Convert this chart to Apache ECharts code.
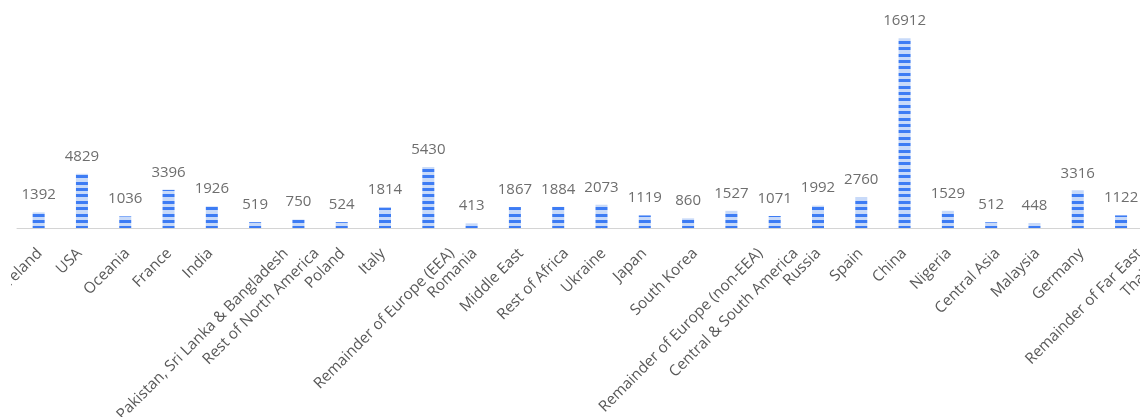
<!DOCTYPE html>
<html>
<head>
<meta charset="utf-8">
<script src="https://cdn.jsdelivr.net/npm/echarts@6/dist/echarts.min.js"></script>
<style>
html,body{margin:0;padding:0;overflow:hidden;background:#fff;width:1140px;height:417px;}
#chart{position:absolute;left:11px;top:0;width:1189px;height:417px;}
</style>
</head>
<body>
<div id="chart"></div>
<script>
// ---- data ----
const categories = [
  'Ireland', 'USA', 'Oceania', 'France', 'India',
  'Pakistan, Sri Lanka & Bangladesh', 'Rest of North America', 'Poland', 'Italy',
  'Remainder of Europe (EEA)', 'Romania', 'Middle East', 'Rest of Africa', 'Ukraine',
  'Japan', 'South Korea', 'Remainder of Europe (non-EEA)', 'Central & South America',
  'Russia', 'Spain', 'China', 'Nigeria', 'Central Asia', 'Malaysia', 'Germany',
  'Remainder of Far East', 'Thailand'
];
const values = [
  1392, 4829, 1036, 3396, 1926,
  519, 750, 524, 1814,
  5430, 413, 1867, 1884, 2073,
  1119, 860, 1527, 1071,
  1992, 2760, 16912, 1529, 512, 448, 3316,
  1122, null
];
const yMax = 18000;

// ---- styling helpers ----
const FONT_FAMILY = '"Open Sans", sans-serif';
const AXIS_FONT = '15.3px ' + FONT_FAMILY;

// striped fill tile (canvas-anchored)
function makeStripeTile() {
  const c = document.createElement('canvas');
  c.width = 4; c.height = 32;
  const g = c.getContext('2d');
  g.fillStyle = '#c8daf9';
  g.fillRect(0, 0, 4, 32);
  g.fillStyle = '#3d7cf4';
  [2, 9, 15, 22, 28].forEach(function (r) { g.fillRect(0, r, 4, 3); });
  return c;
}
const stripe = { image: makeStripeTile(), repeat: 'repeat' };

// label shift depends on text length
const mctx = document.createElement('canvas').getContext('2d');
mctx.font = AXIS_FONT;
const labelShift = categories.map(function (t) {
  return 0.16 * mctx.measureText(t).width - 7;
});

const chart = echarts.init(document.getElementById('chart'), null, { renderer: 'canvas' });
chart.setOption({
  animation: false,
  backgroundColor: '#ffffff',
  grid: { left: 6, right: 14, top: 26, bottom: 189, containLabel: false },
  xAxis: {
    type: 'category',
    data: categories,
    axisLine: { show: true, lineStyle: { color: '#d4d4d4', width: 1 } },
    axisTick: { show: false },
    axisLabel: { show: false }
  },
  yAxis: {
    type: 'value',
    min: 0,
    max: yMax,
    show: false,
    splitLine: { show: false }
  },
  series: [
    {
      type: 'bar',
      data: values,
      barWidth: 12,
      itemStyle: { color: stripe },
      label: {
        show: true,
        position: 'top',
        distance: 10,
        color: '#6e6e6e',
        fontSize: 15,
        fontFamily: FONT_FAMILY
      }
    },
    {
      type: 'custom',
      silent: true,
      clip: false,
      data: categories.map(function (c, i) { return [i, 0]; }),
      encode: { x: 0, y: 1 },
      renderItem: function (params, api) {
        const i = params.dataIndex;
        const p = api.coord([i, 0]);
        return {
          type: 'text',
          x: p[0] + labelShift[i],
          y: p[1] + 23,
          rotation: Math.PI / 4,
          style: {
            text: categories[i],
            fill: '#595959',
            font: AXIS_FONT,
            align: 'right',
            verticalAlign: 'middle'
          }
        };
      }
    }
  ]
});
</script>
</body>
</html>
